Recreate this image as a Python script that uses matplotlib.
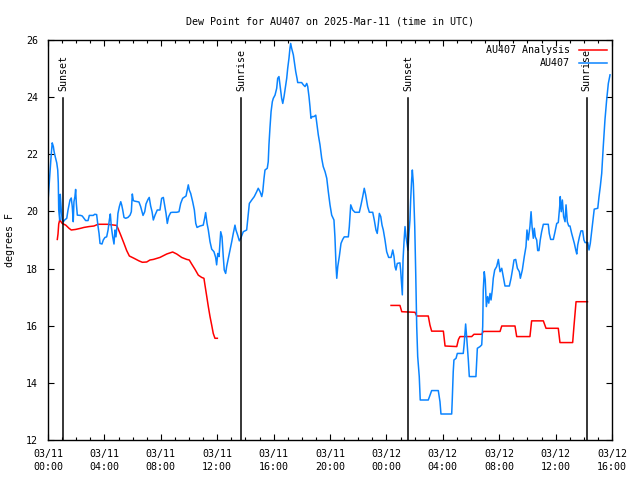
import numpy as np
import pandas as pd
import matplotlib
matplotlib.use("Agg")
import matplotlib.pyplot as plt
import matplotlib.dates as mdates
import matplotlib.transforms as mtrans

# hours after 2025-03-11 00:00 UTC, dew point in deg F
obs_hours = [0.02, 0.12, 0.23, 0.30, 0.38, 0.43, 0.52, 0.62, 0.69, 0.73, 0.76, 0.83, 0.87, 0.94, 1.01,
             1.09, 1.18, 1.33, 1.42, 1.56, 1.65, 1.72, 1.79, 1.84, 1.91, 1.96, 2.01, 2.08, 2.32, 2.43,
             2.55, 2.67, 2.84, 2.93, 3.21, 3.31, 3.45, 3.55, 3.62, 3.69, 3.83, 3.92, 4.04, 4.16, 4.26,
             4.35, 4.42, 4.49, 4.59, 4.68, 4.75, 4.82, 4.91, 4.96, 5.06, 5.16, 5.23, 5.30, 5.39, 5.51,
             5.67, 5.82, 5.91, 5.98, 6.05, 6.15, 6.45, 6.57, 6.74, 6.86, 6.95, 7.09, 7.18, 7.28, 7.38,
             7.47, 7.59, 7.75, 7.94, 8.06, 8.18, 8.25, 8.37, 8.46, 8.56, 8.70, 8.84, 9.13, 9.29, 9.41,
             9.55, 9.79, 9.88, 9.95, 10.02, 10.12, 10.26, 10.38, 10.48, 10.57, 10.78, 11.01, 11.11, 11.18,
             11.28, 11.37, 11.49, 11.61, 11.77, 11.89, 11.96, 12.04, 12.13, 12.25, 12.34, 12.43, 12.50,
             12.60, 12.67, 12.79, 12.91, 13.03, 13.14, 13.26, 13.33, 13.45, 13.57, 13.67, 13.76, 13.85,
             14.09, 14.21, 14.28, 14.45, 14.63, 14.80, 14.91, 15.04, 15.16, 15.23, 15.32, 15.39, 15.55,
             15.62, 15.67, 15.74, 15.82, 15.91, 15.98, 16.10, 16.22, 16.29, 16.38, 16.45, 16.57, 16.65,
             16.74, 16.81, 16.93, 17.00, 17.09, 17.16, 17.21, 17.28, 17.40, 17.47, 17.57, 17.66, 17.71,
             17.99, 18.11, 18.23, 18.35, 18.42, 18.51, 18.58, 18.65, 18.74, 18.87, 18.99, 19.08, 19.17,
             19.29, 19.41, 19.52, 19.65, 19.77, 19.88, 20.00, 20.12, 20.28, 20.35, 20.43, 20.48, 20.55,
             20.66, 20.78, 20.90, 21.01, 21.30, 21.37, 21.47, 21.61, 21.77, 22.08, 22.20, 22.32, 22.43,
             22.53, 22.67, 22.79, 23.03, 23.14, 23.26, 23.35, 23.43, 23.50, 23.60, 23.69, 23.78, 23.90,
             24.02, 24.16, 24.33, 24.45, 24.54, 24.61, 24.68, 24.77, 24.96, 25.01, 25.09, 25.13, 25.18,
             25.25, 25.32, 25.39, 25.46, 25.53, 25.60, 25.67, 25.72, 25.79, 25.84, 25.91, 26.01, 26.08,
             26.15, 26.22, 26.33, 26.40, 26.97, 27.21, 27.68, 27.80, 27.87, 28.63, 28.67, 28.74, 28.79,
             28.94, 29.03, 29.45, 29.52, 29.62, 29.69, 29.81, 29.88, 30.35, 30.45, 30.64, 30.76, 30.83,
             30.87, 30.94, 31.01, 31.09, 31.18, 31.26, 31.35, 31.42, 31.51, 31.58, 31.68, 31.82, 31.94,
             32.06, 32.18, 32.29, 32.41, 32.72, 32.84, 32.96, 33.05, 33.17, 33.29, 33.43, 33.50, 33.64,
             33.78, 33.90, 33.97, 34.06, 34.18, 34.26, 34.33, 34.42, 34.49, 34.56, 34.66, 34.73, 34.82,
             34.91, 35.01, 35.13, 35.48, 35.55, 35.65, 35.84, 35.96, 36.08, 36.19, 36.29, 36.33, 36.40,
             36.48, 36.57, 36.67, 36.74, 36.83, 36.93, 37.02, 37.14, 37.26, 37.33, 37.43, 37.50, 37.57,
             37.69, 37.80, 37.92, 38.01, 38.09, 38.28, 38.37, 38.46, 38.60, 38.74, 38.99, 39.08, 39.17,
             39.27, 39.38, 39.50, 39.62, 39.74, 39.86]
obs_dewpt = [20.5, 21.2, 22.0, 22.4, 22.27, 22.1, 21.9, 21.7, 21.45, 21.0, 20.05, 19.7, 20.6, 20.05, 19.7,
             19.64, 19.7, 19.76, 20.05, 20.4, 20.47, 20.17, 19.64, 20.34, 20.52, 20.77, 20.28, 19.87, 19.86, 19.84,
             19.76, 19.68, 19.68, 19.86, 19.86, 19.9, 19.89, 19.47, 19.23, 18.88, 18.86, 19.0, 19.09, 19.11, 19.35,
             19.7, 19.91, 19.47, 19.11, 18.86, 19.35, 19.11, 19.58, 19.93, 20.17, 20.34, 20.22, 20.05, 19.79, 19.76,
             19.79, 19.87, 19.99, 20.61, 20.38, 20.36, 20.33, 20.17, 19.86, 19.99, 20.26, 20.42, 20.49, 20.19, 19.99,
             19.7, 19.87, 20.05, 20.05, 20.46, 20.49, 20.28, 19.93, 19.58, 19.82, 19.96, 19.97, 19.97, 19.99, 20.28,
             20.46, 20.54, 20.75, 20.93, 20.75, 20.63, 20.34, 20.05, 19.58, 19.44, 19.49, 19.52, 19.76, 19.96,
             19.58, 19.35, 18.94, 18.68, 18.59, 18.39, 18.13, 18.53, 18.42, 19.29, 19.11, 18.42, 17.95,
             17.83, 18.07, 18.36, 18.65, 18.94, 19.23, 19.52, 19.35, 19.17, 18.97, 19.06, 19.17, 19.29,
             19.35, 19.93, 20.28, 20.4, 20.52, 20.69, 20.81, 20.69, 20.52, 20.69, 21.16, 21.45, 21.51,
             21.74, 22.33, 22.91, 23.49, 23.84, 23.96, 24.07, 24.31, 24.66, 24.72, 24.43, 23.96, 23.78,
             24.02, 24.25, 24.66, 25.01, 25.36, 25.71, 25.88, 25.71, 25.48, 25.24, 24.89, 24.66, 24.51,
             24.51, 24.43, 24.37, 24.48, 24.37, 24.02, 23.67, 23.26, 23.32, 23.32, 23.37, 23.03, 22.68,
             22.33, 21.86, 21.57, 21.39, 21.16, 20.69, 20.23, 19.87, 19.7, 19.11, 18.07, 17.66, 18.07,
             18.42, 18.88, 19.02, 19.11, 19.11, 19.47, 20.23, 20.05, 19.97, 19.97, 20.23, 20.52, 20.81,
             20.58, 20.17, 19.97, 19.97, 19.7, 19.35, 19.23, 19.58, 19.93, 19.82, 19.52, 19.35, 19.0,
             18.59, 18.39, 18.39, 18.65, 18.42, 18.07, 17.95, 18.18, 18.2, 17.95, 17.37, 17.08, 18.3,
             18.94, 19.47, 19.11, 18.88, 18.65, 19.23, 19.7, 20.4, 21.1, 21.45, 20.98, 19.47, 17.83,
             15.97, 14.92, 14.22, 13.4, 13.4, 13.73, 13.73, 13.34, 12.91, 12.91, 13.4, 14.39, 14.8,
             14.86, 15.03, 15.03, 15.38, 16.06, 15.62, 14.8, 14.22, 14.22, 15.21, 15.27, 15.33, 15.97,
             17.25, 17.89, 17.6, 16.67, 17.02, 16.79, 17.13, 16.9, 17.25, 17.66, 17.95, 18.07, 18.32,
             17.89, 18.01, 17.72, 17.39, 17.39, 17.66, 18.01, 18.3, 18.32, 18.01, 17.89, 17.66, 17.95,
             18.42, 18.77, 19.35, 19.0, 19.47, 19.99, 19.47, 19.06, 19.41, 19.11, 19.0, 18.63, 18.63,
             19.0, 19.29, 19.55, 19.55, 19.23, 19.02, 19.02, 19.29, 19.58, 19.61, 20.17, 20.52, 19.99,
             20.4, 19.82, 19.64, 20.23, 19.64, 19.49, 19.49, 19.23, 19.0, 18.88, 18.65, 18.51, 18.83,
             19.11, 19.32, 19.32, 19.0, 18.91, 18.91, 18.65, 18.88, 19.47, 20.08, 20.11, 20.52, 20.87,
             21.33, 22.27, 23.2, 23.9, 24.48, 24.78]

# analysis series (two pieces, gap in between)
ana_hours_1 = [0.66, 0.71, 0.76, 0.83, 1.01, 1.26, 1.49, 1.65, 1.96, 2.32, 2.55, 2.91, 3.26, 3.55, 4.21,
               4.87, 4.96, 5.16, 5.39, 5.58, 5.77, 6.10, 6.45, 6.69, 7.00, 7.23, 7.47, 7.94, 8.42, 8.84,
               9.13, 9.48, 9.84, 10.02, 10.19, 10.43, 10.66, 10.90, 11.06, 11.13, 11.26, 11.37, 11.49,
               11.61, 11.72, 11.84, 12.01]
ana_dewpt_1 = [19.02, 19.21, 19.56, 19.7, 19.58, 19.52, 19.41, 19.35, 19.37, 19.41, 19.44, 19.47, 19.49, 19.55, 19.55,
               19.51, 19.41, 19.17, 18.88, 18.63, 18.44, 18.36, 18.27, 18.22, 18.23, 18.3, 18.32, 18.39, 18.51, 18.58,
               18.51, 18.39, 18.32, 18.3, 18.16, 17.97, 17.77, 17.69, 17.66, 17.43, 17.02, 16.67, 16.32,
               16.02, 15.73, 15.56, 15.56]
ana_hours_2 = [24.33, 24.96, 25.09, 26.03, 26.15, 26.97, 27.09, 27.21, 28.04, 28.16, 28.99, 29.11, 29.22,
               30.05, 30.21, 30.76, 30.87, 32.06, 32.18, 33.12, 33.24, 34.18, 34.30, 35.13, 35.32, 36.19,
               36.31, 37.21, 37.30, 37.45, 38.26]
ana_dewpt_2 = [16.71, 16.71, 16.49, 16.47, 16.34, 16.34, 16.02, 15.81, 15.81, 15.29, 15.27, 15.52, 15.62,
               15.62, 15.70, 15.70, 15.80, 15.80, 15.99, 15.99, 15.62, 15.62, 16.17, 16.17, 15.91, 15.91,
               15.41, 15.41, 15.97, 16.84, 16.84]

sun_labels = ["Sunset", "Sunrise", "Sunset", "Sunrise"]
sun_hours = [1.06, 13.69, 25.55, 38.20]

t0 = pd.Timestamp("2025-03-11 00:00")
def to_time(h):
    return t0 + pd.to_timedelta(np.array(h), unit="h")

plt.rcParams['font.family'] = ['DejaVu Sans Mono']
FS = 7.2

fig = plt.figure(figsize=(6.4, 4.8), dpi=100)
ax = fig.add_axes([48 / 640, 40 / 480, 564 / 640, 400 / 480])

ax.plot(to_time(ana_hours_1), ana_dewpt_1, color="#ff0000", lw=1.1, label="AU407 Analysis")
ax.plot(to_time(ana_hours_2), ana_dewpt_2, color="#ff0000", lw=1.1)
ax.plot(to_time(obs_hours), obs_dewpt, color="#0a84ff", lw=1.1, label="AU407")

trans = mtrans.blended_transform_factory(ax.transData, ax.transAxes)
for lab, h in zip(sun_labels, sun_hours):
    t = to_time([h])[0]
    ax.axvline(t, ymin=0, ymax=0.855, color="black", lw=1.1)
    ax.text(t, 0.872, lab, rotation=90, transform=trans, ha="center", va="bottom", fontsize=FS)

ax.set_xlim(t0, t0 + pd.Timedelta(hours=40))
ax.set_ylim(12, 26)
ax.set_yticks(np.arange(12, 27, 2))
ax.xaxis.set_major_locator(mdates.HourLocator(byhour=range(0, 24, 4)))
ax.xaxis.set_minor_locator(mdates.HourLocator(interval=1))
ax.xaxis.set_major_formatter(mdates.DateFormatter("%m/%d\n%H:%M"))

ax.tick_params(which="both", direction="in", top=True, right=True, labelsize=FS, width=0.8)
ax.tick_params(which="major", length=4.5)
ax.tick_params(which="minor", length=2.5)
ax.tick_params(axis="x", pad=6.5)
ax.tick_params(axis="y", pad=7)
for lbl in ax.get_xticklabels():
    lbl.set_linespacing(1.4)
for s in ax.spines.values():
    s.set_linewidth(1.0)

ax.set_ylabel("degrees F", fontsize=FS, labelpad=8)
ax.set_title("Dew Point for AU407 on 2025-Mar-11 (time in UTC)", fontsize=FS, pad=11.5)

ax.legend(loc="upper right", frameon=False, markerfirst=False, fontsize=FS, handlelength=2.8,
          handletextpad=0.9, labelspacing=0.3, borderaxespad=0.15, bbox_to_anchor=(1.0, 1.0))

fig.savefig("out.png", dpi=100)
